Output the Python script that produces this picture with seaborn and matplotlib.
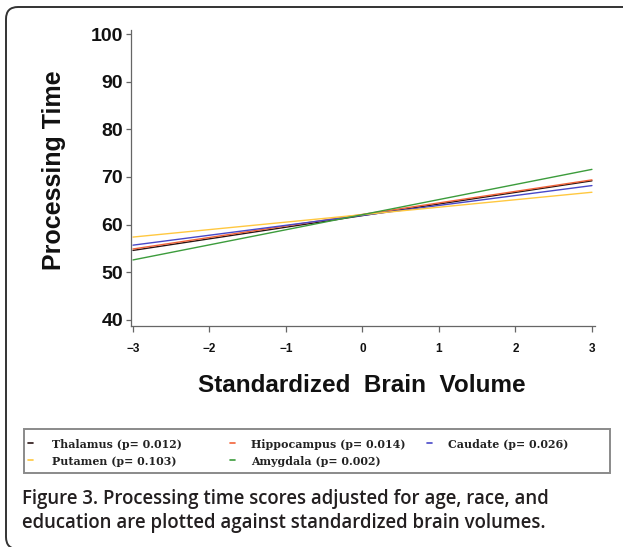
import matplotlib
matplotlib.use("Agg")
import numpy as np
import pandas as pd
import matplotlib.pyplot as plt
import seaborn as sns
from matplotlib.patches import FancyBboxPatch, Rectangle
from matplotlib.lines import Line2D

# values (fitted lines at -3 SD and +3 SD)
regions = ["Thalamus", "Hippocampus", "Caudate", "Putamen", "Amygdala"]
p_values = ["0.012", "0.014", "0.026", "0.103", "0.002"]
volume_sd = [-3, 3]
time_low = [54.6, 54.9, 55.7, 57.4, 52.6]
time_high = [69.2, 69.4, 68.2, 66.8, 71.6]
colors = ["#2a1414", "#f2643a", "#4848c8", "#ffc840", "#3c9c3c"]

x_ticks = [-3, -2, -1, 0, 1, 2, 3]
y_ticks = [40, 50, 60, 70, 80, 90, 100]

rows = []
for r, lo, hi in zip(regions, time_low, time_high):
    rows.append((r, volume_sd[0], lo))
    rows.append((r, volume_sd[1], hi))
df = pd.DataFrame(rows, columns=["region", "volume", "time"])

W, H = 623, 547
sns.set_theme(style="ticks")
plt.rcParams["font.family"] = ["Liberation Sans", "DejaVu Sans"]

fig = plt.figure(figsize=(W / 100, H / 100), dpi=100)
fig.patch.set_facecolor("white")


def fx(x):
    return x / W


def fy(y):
    return 1 - y / H


# axes box in pixels: left 131, right 595, top 30, bottom 326
ax = fig.add_axes([fx(131), fy(326), (595 - 131) / W, (326 - 30) / H])

sns.lineplot(data=df, x="volume", y="time", hue="region", hue_order=regions,
             palette=dict(zip(regions, colors)), linewidth=1.0, legend=False, ax=ax)

ax.set_xlim(-3.026, 3.04)
ax.set_ylim(38.74, 100.84)
ax.set_xticks(x_ticks)
ax.set_xticklabels(["\u22123", "\u22122", "\u22121", "0", "1", "2", "3"],
                   fontsize=8.5, fontweight="bold", color="#111111")
ax.set_yticks(y_ticks)
ax.set_yticklabels([str(v) for v in y_ticks], fontsize=14, fontweight="bold",
                   color="#111111")
ax.tick_params(axis="x", direction="out", length=4.5, width=0.9, color="#666666", pad=8)
ax.tick_params(axis="y", direction="out", length=3.8, width=0.9, color="#666666", pad=2)
sns.despine(ax=ax)
for s in ["left", "bottom"]:
    ax.spines[s].set_color("#666666")
    ax.spines[s].set_linewidth(0.9)

ax.set_xlabel("Standardized  Brain  Volume", fontsize=17.5, fontweight="bold",
              color="#111111", va="center")
ax.xaxis.set_label_coords(0.498, (326 - 386) / 296)
ax.set_ylabel("Processing Time", fontsize=18, fontweight="bold", color="#111111",
              va="center")
ax.yaxis.set_label_coords((54 - 131) / 464, (326 - 170) / 296)

# legend box drawn below the plot
fig.add_artist(Rectangle((fx(24), fy(473)), (610 - 24) / W, (473 - 429) / H,
                         transform=fig.transFigure, fill=False,
                         edgecolor="#8a8a8a", linewidth=1.4))
col_hx = [28, 230, 427]
col_tx = [52, 251, 448]
row_base = [448.5, 465]
for k in range(len(regions)):
    c, r = k % 3, k // 3
    hy = row_base[r] - 5.5
    fig.add_artist(Line2D([fx(col_hx[c]), fx(col_hx[c] + 5)], [fy(hy), fy(hy)],
                          transform=fig.transFigure, color=colors[k], linewidth=1.2))
    fig.text(fx(col_tx[c]), fy(row_base[r]), f"{regions[k]} (p= {p_values[k]})",
             family=["DejaVu Serif"], fontsize=7.9, fontweight="bold",
             color="#222222", va="baseline", ha="left")

# caption, two lines
caption = ["Figure 3. Processing time scores adjusted for age, race, and",
           "education are plotted against standardized brain volumes."]
for line, base in zip(caption, [504, 528]):
    fig.text(fx(22), fy(base), line, family=["Open Sans", "DejaVu Sans"],
             fontsize=13.4, fontweight="semibold", color="#231f20",
             va="baseline", ha="left")

# rounded frame (only top and left edges show)
fig.add_artist(FancyBboxPatch((0.06, -0.02), 7.5, 5.40 + 0.02,
                              boxstyle="round,pad=0,rounding_size=0.12",
                              transform=fig.dpi_scale_trans, fill=False,
                              edgecolor="#333333", linewidth=1.4))

fig.savefig("out.png", dpi=100)
